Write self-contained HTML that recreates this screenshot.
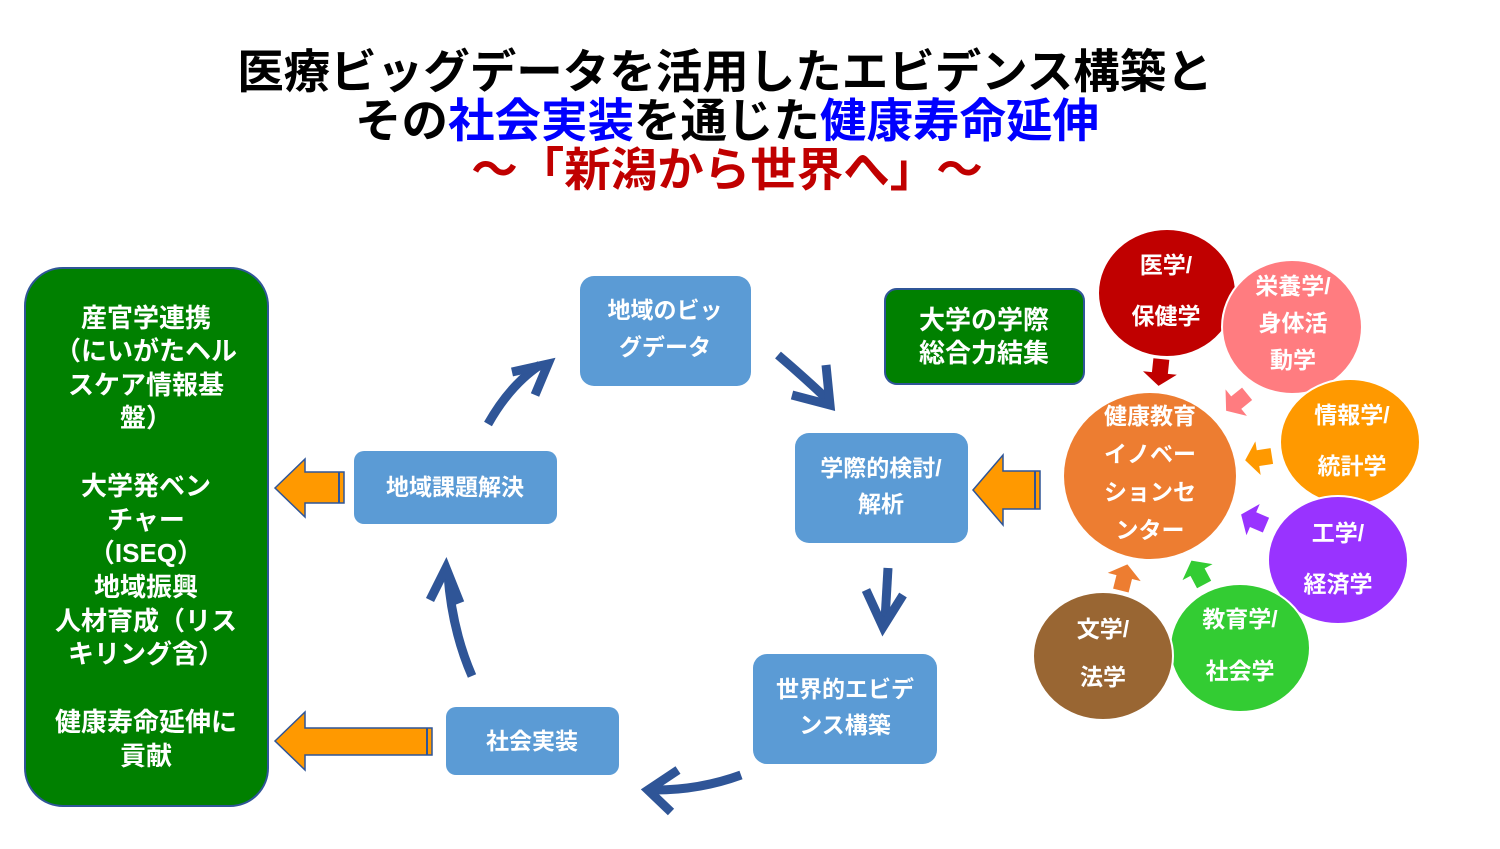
<!DOCTYPE html>
<html><head><meta charset="utf-8"><style>
body{margin:0;background:#fff;width:1500px;height:844px;overflow:hidden}
svg text{font-family:"Liberation Sans","Noto Sans CJK JP",sans-serif;font-weight:bold}
</style></head><body>
<svg width="1500" height="844" viewBox="0 0 1500 844" xmlns="http://www.w3.org/2000/svg">
<g text-anchor="middle" font-size="46.5">
<text x="725" y="88" fill="#000">医療ビッグデータを活用したエビデンス構築と</text>
<text x="727" y="137" fill="#000">その<tspan fill="#0000ff">社会実装</tspan>を通じた<tspan fill="#0000ff">健康寿命延伸</tspan></text>
<text x="727" y="186" fill="#c00000">～「新潟から世界へ」～</text>
</g>
<rect x="25" y="268" width="243" height="538" rx="38" fill="#008000" stroke="#2f5597" stroke-width="2"/>
<g text-anchor="middle" font-size="26" fill="#fff">
<text x="146" y="327">産官学連携</text>
<text x="146" y="360">（にいがたヘル</text>
<text x="146" y="394">スケア情報基</text>
<text x="146" y="427">盤）</text>
<text x="146" y="495">大学発ベン</text>
<text x="146" y="529">チャー</text>
<text x="146" y="562">（ISEQ）</text>
<text x="146" y="596">地域振興</text>
<text x="146" y="630">人材育成（リス</text>
<text x="146" y="663">キリング含）</text>
<text x="146" y="731">健康寿命延伸に</text>
<text x="146" y="765">貢献</text>
</g>
<g fill="#5b9bd5">
<rect x="580" y="276" width="171" height="110" rx="14"/>
<rect x="354" y="451" width="203" height="73" rx="10"/>
<rect x="795" y="433" width="173" height="110" rx="14"/>
<rect x="753" y="654" width="184" height="110" rx="14"/>
<rect x="446" y="707" width="173" height="68" rx="10"/>
</g>
<g text-anchor="middle" font-size="23" fill="#fff">
<text x="665" y="318">地域のビッ</text>
<text x="665" y="355">グデータ</text>
<text x="455" y="495">地域課題解決</text>
<text x="881" y="476">学際的検討/</text>
<text x="881" y="512">解析</text>
<text x="845" y="697">世界的エビデ</text>
<text x="845" y="733">ンス構築</text>
<text x="532" y="749">社会実装</text>
</g>
<rect x="885" y="289" width="199" height="95" rx="12" fill="#008000" stroke="#2f5597" stroke-width="2"/>
<g text-anchor="middle" font-size="26" fill="#fff">
<text x="984" y="329">大学の学際</text>
<text x="984" y="362">総合力結集</text>
</g>
<g fill="none" stroke="#2f5597" stroke-width="9" stroke-linecap="butt">
<path d="M488 424 Q510 385 540 365"/>
<path d="M512 372 L548 364 L535 395"/>
<path d="M778 355 Q805 378 828 400"/>
<path d="M792 395 L830 405 L826 365"/>
<path d="M888 568 L885 620"/>
<path d="M866 590 L883 627 L903 595"/>
<path d="M741 775 Q700 790 655 790"/>
<path d="M678 770 L648 790 L671 812"/>
<path d="M472 676 Q452 630 448 575"/>
<path d="M430 600 L446 568 L460 603"/>
</g>
<g fill="#ff9900" stroke="#2f5597" stroke-width="1.5">
<polygon points="275,488 305,459 305,472 344,472 344,503 305,503 305,517"/>
<polygon points="275,741 305,712 305,728 432,728 432,755 305,755 305,770"/>
<polygon points="973,490 1003,455 1003,471 1040,471 1040,509 1003,509 1003,525"/>
</g>
<g stroke="#2f5597" stroke-width="2"><line x1="339" y1="472" x2="339" y2="503"/><line x1="427" y1="728" x2="427" y2="755"/><line x1="1035" y1="471" x2="1035" y2="509"/></g>
<ellipse cx="1167" cy="293" rx="69" ry="64" fill="#c00000" stroke="#fff" stroke-width="2"/>
<ellipse cx="1292" cy="327" rx="70" ry="67" fill="#ff7c80" stroke="#fff" stroke-width="2"/>
<ellipse cx="1350" cy="442" rx="70" ry="63" fill="#ff9900" stroke="#fff" stroke-width="2"/>
<ellipse cx="1338" cy="560" rx="70" ry="64" fill="#9933ff" stroke="#fff" stroke-width="2"/>
<ellipse cx="1240" cy="648" rx="70" ry="64" fill="#33cc33" stroke="#fff" stroke-width="2"/>
<ellipse cx="1103" cy="656" rx="70" ry="64" fill="#996633" stroke="#fff" stroke-width="2"/>
<ellipse cx="1150" cy="476" rx="86" ry="83" fill="#ed7d31"/>
<defs><polygon id="sa" points="-13,-8 1,-8 1,-17 14,0 1,17 1,8 -13,8"/></defs>
<use href="#sa" fill="#c00000" transform="translate(1160,372) rotate(96)"/>
<use href="#sa" fill="#ff7c80" transform="translate(1237,402) rotate(141)"/>
<use href="#sa" fill="#ff9900" transform="translate(1259,458) rotate(171)"/>
<use href="#sa" fill="#9933ff" transform="translate(1254,520) rotate(203)"/>
<use href="#sa" fill="#33cc33" transform="translate(1198,573) rotate(242)"/>
<use href="#sa" fill="#ed7d31" transform="translate(1124,578) rotate(284)"/>
<g text-anchor="middle" font-size="23" fill="#fff">
<text x="1166" y="273">医学/</text>
<text x="1166" y="324">保健学</text>
<text x="1293" y="294">栄養学/</text>
<text x="1293" y="331">身体活</text>
<text x="1293" y="368">動学</text>
<text x="1352" y="423">情報学/</text>
<text x="1352" y="474">統計学</text>
<text x="1338" y="541">工学/</text>
<text x="1338" y="592">経済学</text>
<text x="1240" y="627">教育学/</text>
<text x="1240" y="679">社会学</text>
<text x="1103" y="637">文学/</text>
<text x="1103" y="685">法学</text>
<text x="1150" y="424">健康教育</text>
<text x="1150" y="462">イノベー</text>
<text x="1150" y="500">ションセ</text>
<text x="1150" y="538">ンター</text>
</g>
</svg>
</body></html>
